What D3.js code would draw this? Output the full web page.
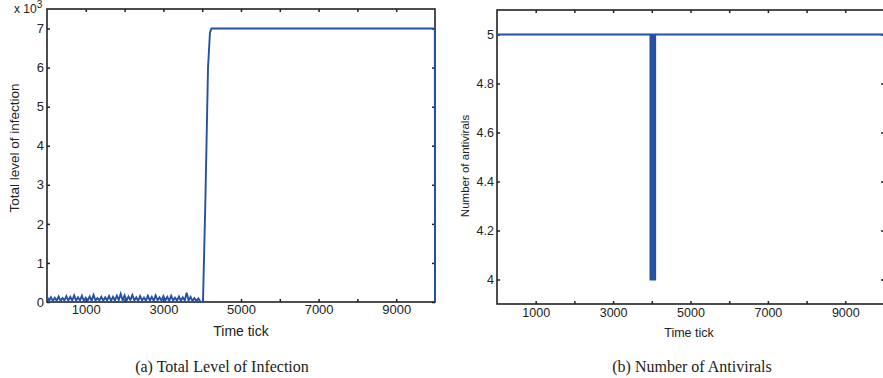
<!DOCTYPE html>
<html><head><meta charset="utf-8">
<script src="https://cdn.jsdelivr.net/npm/d3@7"></script>
<style>
html,body{margin:0;padding:0;background:#fff;}
svg text{font-family:"Liberation Sans",Arial,Helvetica,sans-serif;fill:#222;}
.cap{font-family:"Liberation Serif","Times New Roman",serif;}
</style></head>
<body><svg id="c" width="883" height="378"></svg>
<script>
// ---------- data ----------
const infectionTime = [0,50,100,150,200,250,300,350,400,450,500,550,600,650,700,750,800,850,900,950,
 1000,1050,1100,1150,1200,1250,1300,1350,1400,1450,1500,1550,1600,1650,1700,1750,1800,1850,1900,1950,
 2000,2050,2100,2150,2200,2250,2300,2350,2400,2450,2500,2550,2600,2650,2700,2750,2800,2850,2900,2950,
 3000,3050,3100,3150,3200,3250,3300,3350,3400,3450,3500,3550,3600,3650,3700,3750,3800,3850,3900,3950,
 4020,4080,4150,4200,4240,9995,10000];
const infectionValue = [140,30,120,25,110,35,140,30,100,40,150,30,130,40,170,35,120,40,160,30,
 110,40,140,30,180,35,100,40,130,30,120,45,150,30,130,40,160,50,210,40,
 170,35,140,50,180,40,120,30,150,40,110,35,160,40,130,30,170,45,120,35,
 150,40,130,30,160,40,110,35,140,30,120,40,240,35,130,30,100,25,90,10,
 0,2500,6000,6900,7000,7000,0];

const antiviralTime  = [0,3966,3966,3990,3990,4014,4014,4038,4038,4062,4062,4086,4086,4095,10000];
const antiviralValue = [5,5,4,4,5,5,4,4,5,5,4,4,5,5,5];

const xTicks = [1000,2000,3000,4000,5000,6000,7000,8000,9000];
const xLabelled = [1000,3000,5000,7000,9000];
const yTicksA = [0,1000,2000,3000,4000,5000,6000,7000];
const yTicksB = [4,4.2,4.4,4.6,4.8,5];

const captions = ["(a) Total Level of Infection","(b) Number of Antivirals"];

// ---------- drawing ----------
const svg = d3.select("#c");
const lineColor = "#2451a4";
const spine = "#222";

function panel(cfg){
  const g = svg.append("g").attr("transform",`translate(${cfg.left},${cfg.top})`);
  const w = cfg.width, h = cfg.height;
  const x = d3.scaleLinear().domain([0,10000]).range([0,w]);
  const y = d3.scaleLinear().domain(cfg.ydom).range([h,0]);

  const fmtX = d => xLabelled.includes(d) ? d : "";
  const ax = g.append("g").attr("transform",`translate(0,${h})`)
    .call(d3.axisBottom(x).tickValues(xTicks).tickFormat(fmtX).tickSize(-3).tickPadding(cfg.xpad));
  const at = g.append("g").call(d3.axisTop(x).tickValues(xTicks).tickFormat("").tickSize(-3));
  const ay = g.append("g").call(d3.axisLeft(y).tickValues(cfg.yticks).tickFormat(cfg.yfmt).tickSize(-3).tickPadding(3));
  const ar = g.append("g").attr("transform",`translate(${w},0)`)
    .call(d3.axisRight(y).tickValues(cfg.yticks).tickFormat("").tickSize(-3));
  [ax,at,ay,ar].forEach(a=>{
    a.select(".domain").remove();
    a.selectAll(".tick line").attr("stroke",spine).attr("stroke-width",1.5);
    a.selectAll("text").attr("font-size",cfg.fs).attr("fill","#222")
      .attr("font-family","'Liberation Sans',Arial,sans-serif");
  });
  g.append("rect").attr("width",w).attr("height",h).attr("fill","none")
    .attr("stroke",spine).attr("stroke-width",1.6);

  const line = d3.line().x((d,i)=>x(cfg.t[i])).y((d,i)=>y(cfg.v[i]));
  g.append("path").datum(cfg.v).attr("d",line)
    .attr("fill","none").attr("stroke",lineColor).attr("stroke-width",cfg.lw)
    .attr("stroke-linejoin","miter").attr("stroke-miterlimit",cfg.ml);
  return {g,x,y};
}

panel({left:47, top:9, width:388, height:293, ydom:[0,7500],
  t:infectionTime, v:infectionValue, lw:1.9, ml:4, yticks:yTicksA, yfmt:d=>d/1000, fs:13, xpad:3});
panel({left:497, top:10, width:387, height:294, ydom:[3.9,5.1],
  t:antiviralTime, v:antiviralValue, lw:2, ml:2, yticks:yTicksB, yfmt:d=>d===4||d===5?d:d3.format(".1f")(d), fs:12.5, xpad:4});

// exponent label
const ex = svg.append("text").attr("x",14).attr("y",13).attr("font-size",12);
ex.append("tspan").text("x 10");
ex.append("tspan").attr("dy",-5).attr("font-size",10).text("3");

// axis labels
svg.append("text").attr("x",241).attr("y",336).attr("text-anchor","middle").attr("font-size",14).text("Time tick");
svg.append("text").attr("transform","translate(19,148) rotate(-90)").attr("text-anchor","middle").attr("font-size",13.5).text("Total level of infection");
svg.append("text").attr("x",689).attr("y",337).attr("text-anchor","middle").attr("font-size",12.5).text("Time tick");
svg.append("text").attr("transform","translate(469,166) rotate(-90)").attr("text-anchor","middle").attr("font-size",11.5).text("Number of antivirals");

// captions
svg.append("text").attr("class","cap").attr("x",222).attr("y",372).attr("text-anchor","middle").attr("font-size",16).text(captions[0]);
svg.append("text").attr("class","cap").attr("x",692).attr("y",372).attr("text-anchor","middle").attr("font-size",16).text(captions[1]);
</script></body></html>
